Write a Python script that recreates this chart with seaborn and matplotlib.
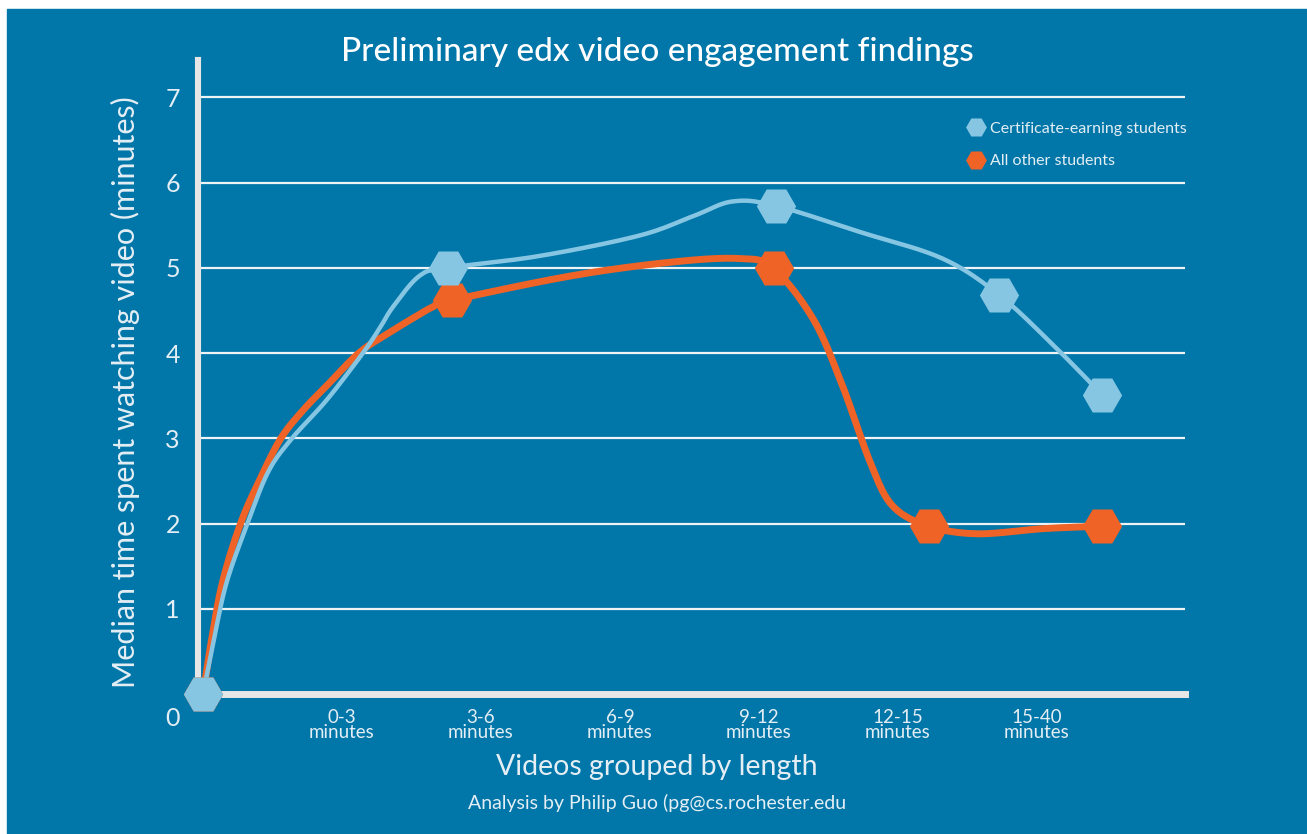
import matplotlib
matplotlib.use("Agg")
import matplotlib.pyplot as plt
from matplotlib.lines import Line2D
import seaborn as sns
import numpy as np

# category labels on the x axis (positions 1..6)
categories = ["0-3\nminutes", "3-6\nminutes", "6-9\nminutes",
              "9-12\nminutes", "12-15\nminutes", "15-40\nminutes"]

# marker positions (x in category units, y in minutes)
cert_x = [0, 1.76, 4.12, 5.73, 6.47]
cert_y = [0, 5.0, 5.73, 4.68, 3.51]
other_x = [0, 1.79, 4.11, 5.22, 6.47]
other_y = [0, 4.62, 5.0, 1.97, 1.97]

# points
cert_path_x = [0, 0.08, 0.17, 0.32, 0.47, 0.64, 0.89, 1.15, 1.27, 1.37, 1.56, 1.76,
               2.42, 3.14, 3.53, 3.81, 4.12, 4.73, 5.32, 5.73, 6.12, 6.47]
cert_path_y = [0, 0.65, 1.31, 2.0, 2.61, 3.0, 3.45, 4.0, 4.29, 4.55, 4.91, 5.0,
               5.14, 5.38, 5.61, 5.78, 5.73, 5.42, 5.11, 4.68, 4.09, 3.51]
other_path_x = [0, 0.06, 0.14, 0.27, 0.41, 0.56, 0.72, 0.88, 1.12, 1.32, 1.5, 1.65, 1.79,
                2.66, 3.38, 3.86, 4.1, 4.39, 4.6, 4.8, 4.96, 5.22, 5.57, 6.04, 6.47]
other_path_y = [0, 0.62, 1.31, 2.0, 2.52, 3.0, 3.33, 3.6, 4.0, 4.22, 4.4, 4.54, 4.62,
                4.91, 5.07, 5.11, 5.0, 4.4, 3.62, 2.72, 2.21, 1.97, 1.88, 1.94, 1.97]

BG = "#0076a9"
CERT = "#86c6e2"
OTHER = "#ef6326"
TXT = "#e4eef4"
AXIS = "#e6e6e6"


def smooth(xs, ys, n=12):
    # catmull-rom pass through the traced points, only to round the drawn line
    p = np.column_stack([xs, ys]).astype(float)
    p = np.vstack([p[0], p, p[-1]])
    out = []
    t = np.linspace(0, 1, n, endpoint=False)[:, None]
    for i in range(1, len(p) - 2):
        p0, p1, p2, p3 = p[i - 1], p[i], p[i + 1], p[i + 2]
        seg = 0.5 * (2 * p1 + (-p0 + p2) * t + (2 * p0 - 5 * p1 + 4 * p2 - p3) * t ** 2
                     + (-p0 + 3 * p1 - 3 * p2 + p3) * t ** 3)
        out.append(seg)
    out.append(p[-2][None, :])
    out = np.vstack(out)
    return out[:, 0], out[:, 1]


sns.set_theme(style="white")
plt.rcParams["font.family"] = ["Lato", "DejaVu Sans"]

W, H = 1307, 834
fig = plt.figure(figsize=(W / 100, H / 100), dpi=100, facecolor="white")
fig.add_artist(plt.Rectangle((7 / W, 0), 1, (H - 9) / H, transform=fig.transFigure,
                             color=BG, zorder=0))

ax = fig.add_axes([198 / W, 1 - 694 / H, (1185 - 198) / W, (694 - 60) / H])
ax.set_facecolor("none")

ox, oy = smooth(other_path_x, other_path_y)
cx, cy = smooth(cert_path_x, cert_path_y)
sns.lineplot(x=ox, y=oy, sort=False, ax=ax, color=OTHER,
             lw=5, solid_capstyle="round", solid_joinstyle="round", zorder=3)
sns.lineplot(x=cx, y=cy, sort=False, ax=ax, color=CERT,
             lw=3.2, solid_capstyle="round", solid_joinstyle="round", zorder=4)
sns.scatterplot(x=other_x, y=other_y, ax=ax, marker="H", s=800, color=OTHER,
                linewidth=0, zorder=5, clip_on=False)
sns.scatterplot(x=cert_x, y=cert_y, ax=ax, marker="H", s=800, color=CERT,
                linewidth=0, zorder=6, clip_on=False)

ax.set_xlim(-0.036, 7.065)
ax.set_ylim(0, 7.44)
ax.set_yticks(range(1, 8))
ax.set_yticklabels([str(v) for v in range(1, 8)])
ax.set_xticks(range(1, 7))
ax.set_xticklabels(categories, linespacing=0.85)
ax.tick_params(axis="y", length=0, pad=13, labelsize=18, labelcolor=TXT)
ax.tick_params(axis="x", length=0, pad=11, labelsize=13.5, labelcolor=TXT)

ax.grid(axis="y", color="#eef3f6", lw=1.6)
ax.grid(axis="x", visible=False)
for s in ["top", "right"]:
    ax.spines[s].set_visible(False)
ax.spines["left"].set_color(AXIS)
ax.spines["left"].set_linewidth(4.4)
ax.spines["bottom"].set_color(AXIS)
ax.spines["bottom"].set_linewidth(5)
ax.spines["left"].set_zorder(2)
ax.spines["bottom"].set_zorder(2)

ax.text(-0.216, -0.29, "0", color=TXT, fontsize=18,
        ha="center", va="center", clip_on=False)

fig.text(657 / W, 1 - 52 / H, "Preliminary edx video engagement findings",
         ha="center", va="center", fontsize=24, color="white", fontweight="medium")
fig.text(125 / W, 1 - 392 / H, "Median time spent watching video (minutes)",
         ha="center", va="center", rotation=90, fontsize=22, color=TXT)
fig.text(657 / W, 1 - 767 / H, "Videos grouped by length", ha="center",
         va="center", fontsize=20.5, color=TXT)
fig.text(657 / W, 1 - 803 / H, "Analysis by Philip Guo (pg@cs.rochester.edu",
         ha="center", va="center", fontsize=14, color=TXT)

handles = [Line2D([], [], marker="H", ls="none", ms=15, mfc=CERT, mec="none"),
           Line2D([], [], marker="H", ls="none", ms=15, mfc=OTHER, mec="none")]
leg = ax.legend(handles, ["Certificate-earning students", "All other students"],
                loc="upper left", bbox_to_anchor=(952 / W, 1 - 107 / H),
                bbox_transform=fig.transFigure, frameon=False, fontsize=11.5,
                labelcolor=TXT, handletextpad=0.3, labelspacing=1.15,
                handlelength=1.2)

fig.savefig("out.png", dpi=100, facecolor="white")
